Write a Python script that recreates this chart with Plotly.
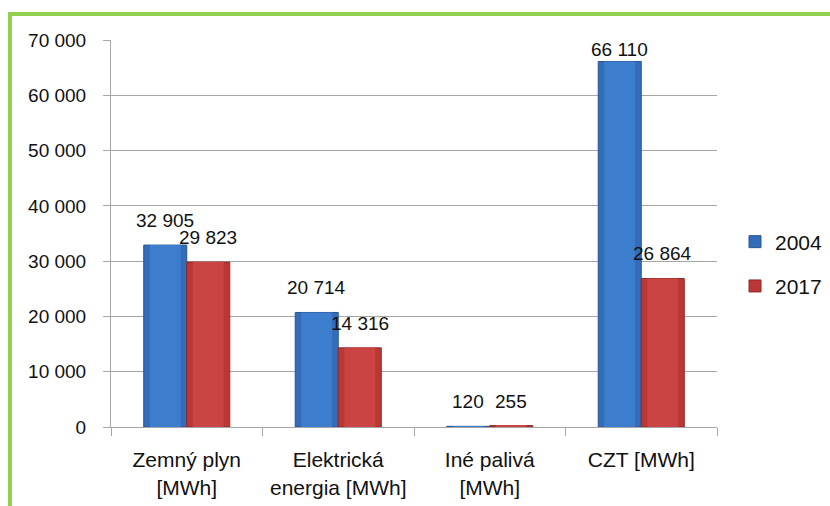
import plotly.graph_objects as go

# Energy consumption by source, 2004 vs 2017
categories = ["Zemný plyn<br>[MWh]", "Elektrická<br>energia [MWh]", "Iné palivá<br>[MWh]", "CZT [MWh]"]
values_2004 = [32905, 20714, 120, 66110]
values_2017 = [29823, 14316, 255, 26864]
y_ticks = [0, 10000, 20000, 30000, 40000, 50000, 60000, 70000]

W, H = 830, 506
ML, MR, MT, MB = 111, 113, 40, 79
PW, PH = W - ML - MR, H - MT - MB
Y_MAX = 70000

FONT = "Liberation Sans"
TEXT = "#111111"
GRID = "#A6A6A6"
GREEN = "#92D050"

BAR_W = 0.284      # width of one bar, in category units
INSET = 0.04       # inset of the lighter centre strip on each side
LABEL_GAP = 12     # pixels between a bar top and its value label
LABEL_H = 22       # approximate label height, used to keep labels inside the chart


def fmt(v):
    return f"{v:,}".replace(",", " ")


def px_x(px):
    return (px - ML) / PW


def px_y(py):
    return (H - MB - py) / PH


series = [
    ("2004", values_2004, -BAR_W, "#336DB9", "#2A5793", "#3D7DCD"),
    ("2017", values_2017, 0.0, "#BA3735", "#8F2927", "#C94442"),
]

fig = go.Figure()
for name, vals, off, body, edge, centre in series:
    fig.add_trace(go.Bar(
        name=name, x=categories, y=vals,
        offset=off, width=BAR_W,
        marker=dict(color=body, line=dict(color=edge, width=1)),
        legendgroup=name,
    ))
for name, vals, off, body, edge, centre in series:
    fig.add_trace(go.Bar(
        x=categories, y=vals,
        offset=off + INSET, width=BAR_W - 2 * INSET,
        marker=dict(color=centre, line=dict(width=0)),
        showlegend=False, hoverinfo="skip", legendgroup=name,
    ))

# value labels above each bar, kept below the top of the plot area
annotations = []
for name, vals, off, body, edge, centre in series:
    for i, v in enumerate(vals):
        top_px = v / Y_MAX * PH           # bar height in pixels
        shift = min(LABEL_GAP, PH - top_px - LABEL_H)
        annotations.append(dict(
            x=i + off + BAR_W / 2, y=v, xref="x", yref="y",
            text=fmt(v), showarrow=False, yanchor="bottom", yshift=shift,
            font=dict(family=FONT, size=19, color=TEXT),
        ))

fig.update_layout(
    width=W, height=H,
    margin=dict(l=ML, r=MR, t=MT, b=MB, pad=0, autoexpand=False),
    paper_bgcolor="white", plot_bgcolor="white",
    barmode="overlay",
    font=dict(family=FONT, size=19, color=TEXT),
    showlegend=True,
    legend=dict(x=px_x(735), y=px_y(264), xanchor="left", yanchor="middle",
                tracegroupgap=14, font=dict(size=21), bgcolor="rgba(0,0,0,0)"),
    xaxis=dict(showline=True, linecolor=GRID, linewidth=1, automargin=False,
               ticks="outside", tickson="boundaries", ticklen=8, tickcolor=GRID,
               showgrid=False, tickfont=dict(size=21), ticklabelstandoff=14),
    yaxis=dict(range=[0, Y_MAX], tickvals=y_ticks, ticktext=[fmt(v) for v in y_ticks],
               automargin=False,
               showgrid=True, gridcolor=GRID, gridwidth=1,
               showline=True, linecolor=GRID, linewidth=1,
               ticks="outside", ticklen=7, tickcolor=GRID, zeroline=False,
               tickfont=dict(size=19), ticklabelstandoff=13),
    annotations=annotations,
    shapes=[
        dict(type="line", xref="paper", yref="paper",
             x0=px_x(10), x1=px_x(10), y0=px_y(12), y1=px_y(H + 5),
             line=dict(color=GREEN, width=4)),
        dict(type="line", xref="paper", yref="paper",
             x0=px_x(8), x1=px_x(W + 5), y0=px_y(14), y1=px_y(14),
             line=dict(color=GREEN, width=4)),
    ],
)

fig.write_html("out.html")
